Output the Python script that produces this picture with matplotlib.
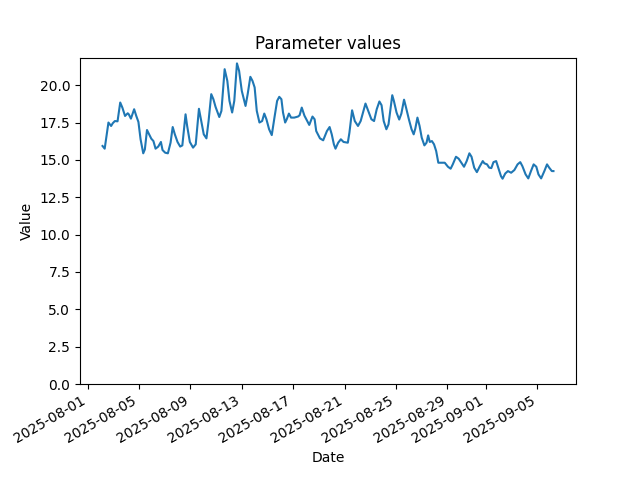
import matplotlib
matplotlib.use("Agg")
import matplotlib.pyplot as plt
import pandas as pd

times = [
    "2025-08-02 04:00", "2025-08-02 08:00", "2025-08-02 15:00", "2025-08-02 20:00",
    "2025-08-02 23:00", "2025-08-03 03:00", "2025-08-03 08:00", "2025-08-03 13:00",
    "2025-08-03 17:00", "2025-08-03 22:00", "2025-08-04 03:00", "2025-08-04 05:00",
    "2025-08-04 09:00", "2025-08-04 15:00", "2025-08-04 19:00", "2025-08-04 23:00",
    "2025-08-05 03:00", "2025-08-05 08:00", "2025-08-05 11:00", "2025-08-05 15:00",
    "2025-08-05 19:00", "2025-08-05 23:00", "2025-08-06 03:00", "2025-08-06 07:00",
    "2025-08-06 12:00", "2025-08-06 17:00", "2025-08-06 20:00", "2025-08-07 01:00",
    "2025-08-07 06:00", "2025-08-07 11:00", "2025-08-07 15:00", "2025-08-07 19:00",
    "2025-08-08 00:00", "2025-08-08 05:00", "2025-08-08 09:00", "2025-08-08 15:00",
    "2025-08-08 18:00", "2025-08-08 23:00", "2025-08-09 05:00", "2025-08-09 10:00",
    "2025-08-09 16:00", "2025-08-09 20:00", "2025-08-10 01:00", "2025-08-10 06:00",
    "2025-08-10 10:00", "2025-08-10 15:00", "2025-08-10 19:00", "2025-08-10 23:00",
    "2025-08-11 06:00", "2025-08-11 10:00", "2025-08-11 16:00", "2025-08-11 21:00",
    "2025-08-12 01:00", "2025-08-12 06:00", "2025-08-12 10:00", "2025-08-12 15:00",
    "2025-08-12 19:00", "2025-08-13 00:00", "2025-08-13 07:00", "2025-08-13 11:00",
    "2025-08-13 16:00", "2025-08-13 20:00", "2025-08-14 00:00", "2025-08-14 04:00",
    "2025-08-14 09:00", "2025-08-14 14:00", "2025-08-14 18:00", "2025-08-14 22:00",
    "2025-08-15 03:00", "2025-08-15 08:00", "2025-08-15 13:00", "2025-08-15 18:00",
    "2025-08-15 22:00", "2025-08-16 02:00", "2025-08-16 05:00", "2025-08-16 09:00",
    "2025-08-16 12:00", "2025-08-16 16:00", "2025-08-16 20:00", "2025-08-17 02:00",
    "2025-08-17 09:00", "2025-08-17 12:00", "2025-08-17 16:00", "2025-08-17 21:00",
    "2025-08-18 06:00", "2025-08-18 12:00", "2025-08-18 16:00", "2025-08-18 19:00",
    "2025-08-19 02:00", "2025-08-19 08:00", "2025-08-19 15:00", "2025-08-19 20:00",
    "2025-08-20 00:00", "2025-08-20 04:00", "2025-08-20 07:00", "2025-08-20 12:00",
    "2025-08-20 17:00", "2025-08-20 22:00", "2025-08-21 06:00", "2025-08-21 09:00",
    "2025-08-21 14:00", "2025-08-21 19:00", "2025-08-22 01:00", "2025-08-22 06:00",
    "2025-08-22 15:00", "2025-08-22 19:00", "2025-08-23 02:00", "2025-08-23 07:00",
    "2025-08-23 12:00", "2025-08-23 17:00", "2025-08-23 21:00", "2025-08-24 01:00",
    "2025-08-24 06:00", "2025-08-24 10:00", "2025-08-24 17:00", "2025-08-24 20:00",
    "2025-08-25 01:00", "2025-08-25 06:00", "2025-08-25 10:00", "2025-08-25 15:00",
    "2025-08-25 18:00", "2025-08-26 00:00", "2025-08-26 05:00", "2025-08-26 09:00",
    "2025-08-26 12:00", "2025-08-26 16:00", "2025-08-26 20:00", "2025-08-27 00:00",
    "2025-08-27 05:00", "2025-08-27 09:00", "2025-08-27 12:00", "2025-08-27 15:00",
    "2025-08-27 19:00", "2025-08-27 23:00", "2025-08-28 03:00", "2025-08-28 07:00",
    "2025-08-28 12:00", "2025-08-28 19:00", "2025-08-29 01:00", "2025-08-29 06:00",
    "2025-08-29 10:00", "2025-08-29 16:00", "2025-08-29 21:00", "2025-08-30 02:00",
    "2025-08-30 07:00", "2025-08-30 12:00", "2025-08-30 17:00", "2025-08-30 21:00",
    "2025-08-31 02:00", "2025-08-31 07:00", "2025-08-31 12:00", "2025-08-31 18:00",
    "2025-08-31 21:00", "2025-09-01 02:00", "2025-09-01 06:00", "2025-09-01 10:00",
    "2025-09-01 14:00", "2025-09-01 19:00", "2025-09-01 23:00", "2025-09-02 04:00",
    "2025-09-02 07:00", "2025-09-02 12:00", "2025-09-02 17:00", "2025-09-02 23:00",
    "2025-09-03 05:00", "2025-09-03 11:00", "2025-09-03 16:00", "2025-09-03 20:00",
    "2025-09-04 02:00", "2025-09-04 07:00", "2025-09-04 12:00", "2025-09-04 17:00",
    "2025-09-04 22:00", "2025-09-05 02:00", "2025-09-05 07:00", "2025-09-05 13:00",
    "2025-09-05 18:00", "2025-09-05 22:00", "2025-09-06 03:00", "2025-09-06 06:00",
]

values = [
    15.93, 15.75, 17.50, 17.27,
    17.45, 17.60, 17.58, 18.84,
    18.50, 17.94, 18.12, 18.05,
    17.76, 18.39, 17.94, 17.54,
    16.38, 15.44, 15.70, 17.00,
    16.71, 16.42, 16.26, 15.75,
    15.89, 16.20, 15.66, 15.48,
    15.44, 16.15, 17.20, 16.71,
    16.20, 15.89, 15.97, 18.05,
    17.27, 16.20, 15.82, 16.04,
    18.42, 17.65, 16.71, 16.44,
    17.60, 19.40, 19.06, 18.55,
    17.87, 18.28, 21.07, 20.29,
    18.95, 18.17, 18.95, 21.46,
    20.96, 19.62, 18.61, 19.40,
    20.56, 20.29, 19.85, 18.28,
    17.50, 17.60, 18.10, 17.72,
    17.05, 16.66, 17.83, 18.95,
    19.22, 19.06, 18.17, 17.50,
    17.72, 18.10, 17.83, 17.83,
    17.90, 17.99, 18.50, 17.96,
    17.34, 17.90, 17.72, 16.93,
    16.44, 16.31, 16.93, 17.20,
    16.71, 16.04, 15.75, 16.15,
    16.38, 16.20, 16.15, 16.82,
    18.32, 17.60, 17.27, 17.60,
    18.77, 18.39, 17.72, 17.60,
    18.39, 18.91, 18.66, 17.60,
    17.05, 17.38, 19.33, 18.95,
    18.17, 17.70, 18.10, 19.03,
    18.61, 17.72, 17.05, 16.71,
    17.09, 17.83, 17.27, 16.49,
    15.97, 16.15, 16.64, 16.20,
    16.26, 16.04, 15.59, 14.81,
    14.81, 14.81, 14.54, 14.41,
    14.70, 15.21, 15.08, 14.81,
    14.54, 14.92, 15.44, 15.21,
    14.48, 14.18, 14.54, 14.92,
    14.77, 14.70, 14.48, 14.45,
    14.85, 14.92, 14.48, 13.91,
    13.74, 14.09, 14.25, 14.14,
    14.32, 14.70, 14.85, 14.58,
    14.03, 13.76, 14.25, 14.70,
    14.54, 14.03, 13.76, 14.25,
    14.70, 14.48, 14.25, 14.25,
]

title = "Parameter values"
xlabel = "Date"
ylabel = "Value"

dates = pd.to_datetime(times)

fig, ax = plt.subplots(figsize=(6.4, 4.8), dpi=100)
ax.plot(dates, values, color="C0", linewidth=1.5)
ax.set_ylim(bottom=0)
ax.set_title(title)
ax.set_xlabel(xlabel)
ax.set_ylabel(ylabel)
fig.autofmt_xdate()
fig.savefig("out.png", dpi=100)
